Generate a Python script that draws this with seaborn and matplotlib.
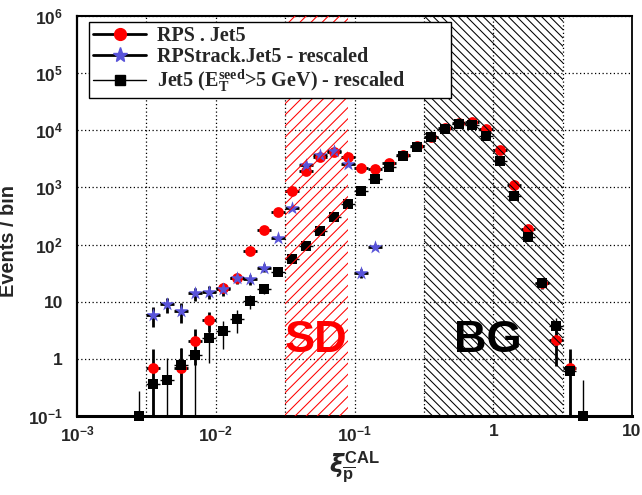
import numpy as np
import pandas as pd
import matplotlib
matplotlib.use("Agg")
import matplotlib.pyplot as plt
import seaborn as sns
from matplotlib.lines import Line2D
from matplotlib.ticker import FixedLocator, FixedFormatter, LogLocator, NullFormatter

# ---------------- data ----------------
XI = [0.002818, 0.003548, 0.004467, 0.005623, 0.007079, 0.008913, 0.01122, 0.01413,
      0.01778, 0.02239, 0.02818, 0.03548, 0.04467, 0.05623, 0.07079, 0.08913,
      0.1122, 0.1413, 0.1778, 0.2239, 0.2818, 0.3548, 0.4467, 0.5623, 0.7079,
      0.8913, 1.122, 1.413, 1.778, 2.239, 2.818, 3.548, 4.467]

nan = np.nan
RPS = [nan, 0.68, nan, 0.68, 2.08, 4.8, 17.6, 25.7, 76, 180, 376, 877, 1963, 3366,
       4220, 3450, 2213, 2075, 2640, 3700, 5370, 7730, 10840, 13250, 13800, 10400,
       4520, 1104, 185, 21, 2.14, 0.68, nan]
RPS_ERR = [nan, 0.8, nan, 0.9, 1.3, 1.9, 3.5, 4.5, 8, 12, 18, 28, 40, 55, 60, 55, 45,
           45, 50, 60, 70, 85, 100, 110, 115, 100, 65, 32, 13, 4.5, 1.4, 0.8, nan]

TRK = [nan, 5.86, 9.0, 6.9, 14.0, 15.0, 16.7, 25.7, 24.7, 39.4, 129, 431, 2470, 3700,
       4400, 2570, 31.4, 91.8, nan, nan, nan, nan, nan, nan, nan, nan, nan, nan,
       nan, nan, nan, nan, nan]
TRK_ERR = [nan, 2.3, 2.7, 2.6, 3.5, 3.9, 4.0, 5.0, 5.0, 6.0, 11, 20, 50, 60, 65, 50,
           5.5, 9.5, nan, nan, nan, nan, nan, nan, nan, nan, nan, nan, nan, nan,
           nan, nan, nan]

JET = [0.1, 0.36, 0.43, 0.78, 1.17, 2.35, 3.07, 4.98, 10.3, 16.9, 33, 56, 95.5, 175,
       300, 513, 877, 1406, 2306, 3600, 5160, 7730, 10540, 12880, 12400, 7940, 2940,
       717, 137, 21, 3.76, 0.62, 0.1]
JET_ERR = [0.17, 0.5, 0.62, 0.8, 1.5, 1.5, 1.6, 2.1, 2.9, 3.5, 5, 6, 8, 10, 14, 18,
           23, 30, 38, 48, 57, 70, 80, 90, 90, 70, 43, 21, 9, 3.5, 1.37, 0.6, 0.33]

LABELS = ["RPS . Jet5",
          "RPStrack.Jet5 - rescaled",
          r"Jet5 ($\mathregular{E_T^{seed}}$>5 GeV) - rescaled"]

SD_RANGE = (0.0316, 0.090)
BG_RANGE = (0.316, 3.16)
SD_TEXT = "SD"
BG_TEXT = "BG"
SD_TEXT_POS = (0.0532, 1.3)
BG_TEXT_POS = (0.907, 1.3)

XTICKS = [1e-3, 1e-2, 1e-1, 1, 10]
XTICK_LABELS = [r"$\mathregular{10^{-3}}$", r"$\mathregular{10^{-2}}$",
                r"$\mathregular{10^{-1}}$", "1", "10"]
YTICKS = [1e-1, 1, 10, 1e2, 1e3, 1e4, 1e5, 1e6]
YTICK_LABELS = [r"$\mathregular{10^{-1}}$", "1", "10", r"$\mathregular{10^{2}}$",
                r"$\mathregular{10^{3}}$", r"$\mathregular{10^{4}}$",
                r"$\mathregular{10^{5}}$", r"$\mathregular{10^{6}}$"]
XGRID = [10 ** -2.5, 10 ** -2, 10 ** -1.5, 10 ** -1, 10 ** -0.5, 1, 10 ** 0.5]

XLABEL = r"$\xi^{\mathregular{CAL}}_{\overline{\mathregular{p}}}$"
YLABEL = "Events / bin"

# ---------------- style ----------------
sns.set_style("white")
plt.rcParams["font.family"] = ["Liberation Sans", "DejaVu Sans"]
plt.rcParams["font.weight"] = "bold"
plt.rcParams["hatch.linewidth"] = 0.75

SANS = "Liberation Sans"
SERIF = "Liberation Serif"
BLUE = "#5954d9"

fig = plt.figure(figsize=(6.42, 4.95), dpi=100)
ax = fig.add_axes([77 / 642, 1 - 416 / 495, 555 / 642, 400 / 495])
ax.set_xscale("log")
ax.set_yscale("log")
ax.set_xlim(1e-3, 10)
ax.set_ylim(1e-1, 1e6)

df = pd.DataFrame({"xi": XI, "rps": RPS, "rps_err": RPS_ERR, "trk": TRK,
                   "trk_err": TRK_ERR, "jet": JET, "jet_err": JET_ERR})
x = df["xi"].to_numpy()
half = 10 ** 0.05
xerr = np.vstack([x - x / half, x * half - x])

# grid
for gx in XGRID:
    ax.axvline(gx, color="black", lw=0.9, ls=(0, (1, 2)), zorder=1)
ax.yaxis.grid(True, which="major", color="black", lw=0.9, ls=(0, (1, 2)), zorder=1)
ax.set_axisbelow(True)

# error bars
ax.errorbar(x, df["rps"], yerr=df["rps_err"], xerr=xerr, fmt="none",
            ecolor="black", elinewidth=2.0, capsize=0, zorder=2)
ax.errorbar(x, df["trk"], yerr=df["trk_err"], xerr=xerr, fmt="none",
            ecolor="black", elinewidth=2.0, capsize=0, zorder=2)
ax.errorbar(x, df["jet"], yerr=df["jet_err"], xerr=xerr, fmt="none",
            ecolor="black", elinewidth=1.0, capsize=0, zorder=2)

# markers
sns.scatterplot(data=df, x="xi", y="rps", ax=ax, marker="o", s=60, color="red",
                linewidth=0, zorder=3, clip_on=False, legend=False)
sns.scatterplot(data=df, x="xi", y="jet", ax=ax, marker="s", s=48, color="black",
                linewidth=0, zorder=3.2, clip_on=False, legend=False)
sns.scatterplot(data=df, x="xi", y="trk", ax=ax, marker="*", s=110, color=BLUE,
                linewidth=0, zorder=3.1, clip_on=False, legend=False)

# hatched regions (drawn over the data, as in the reference)
ax.axvspan(*SD_RANGE, facecolor="none", edgecolor="red", hatch="///", lw=0, zorder=4)
ax.axvspan(*BG_RANGE, facecolor="none", edgecolor="black", hatch="\\\\\\\\", lw=0, zorder=4)

ax.text(*SD_TEXT_POS, SD_TEXT, color="red", fontsize=32.5, fontweight="bold",
        family=SANS, ha="center", va="baseline", zorder=5)
ax.text(*BG_TEXT_POS, BG_TEXT, color="black", fontsize=32.5, fontweight="bold",
        family=SANS, ha="center", va="baseline", zorder=5)

# axes / ticks
ax.xaxis.set_major_locator(FixedLocator(XTICKS))
ax.xaxis.set_major_formatter(FixedFormatter(XTICK_LABELS))
ax.yaxis.set_major_locator(FixedLocator(YTICKS))
ax.yaxis.set_major_formatter(FixedFormatter(YTICK_LABELS))
ax.xaxis.set_minor_locator(LogLocator(base=10, subs=np.arange(2, 10), numticks=20))
ax.yaxis.set_minor_locator(LogLocator(base=10, subs=np.arange(2, 10), numticks=20))
ax.xaxis.set_minor_formatter(NullFormatter())
ax.yaxis.set_minor_formatter(NullFormatter())
ax.tick_params(which="both", direction="in", top=False, right=False, color="black",
               width=1.0, labelsize=12.5)
ax.tick_params(which="major", length=11)
ax.tick_params(which="minor", length=5.5)
ax.tick_params(axis="x", which="major", pad=6)
ax.tick_params(axis="y", which="major", pad=10)
for lab in ax.get_xticklabels() + ax.get_yticklabels():
    lab.set_fontweight("bold")
    lab.set_family(SANS)

for side in ["left", "bottom", "right", "top"]:
    ax.spines[side].set_visible(True)
    ax.spines[side].set_color("black")
ax.spines["left"].set_linewidth(1.6)
ax.spines["bottom"].set_linewidth(2.2)
ax.spines["right"].set_linewidth(1.3)
ax.spines["top"].set_linewidth(1.5)
ax.spines["top"].set_linestyle((0, (1, 1)))

ax.set_xlabel(XLABEL, fontsize=17, fontweight="bold", family=SANS, labelpad=4)
ax.set_ylabel(YLABEL, fontsize=14.4, fontweight="bold", family=SANS)
ax.yaxis.set_label_coords(-0.106, 0.4375)

# legend
handles = [
    Line2D([], [], color="black", lw=2.0, marker="o", markersize=8.5,
           markerfacecolor="red", markeredgecolor="red"),
    Line2D([], [], color="black", lw=2.0, marker="*", markersize=11,
           markerfacecolor=BLUE, markeredgecolor=BLUE),
    Line2D([], [], color="black", lw=1.0, marker="s", markersize=7,
           markerfacecolor="black", markeredgecolor="black"),
]
leg = ax.legend(handles, LABELS, loc="upper left", mode="expand",
                bbox_to_anchor=(0.0216, 0.8025, 0.652, 0.1825), borderaxespad=0,
                prop={"family": SERIF, "weight": "bold", "size": 14.5},
                handlelength=2.6, handletextpad=0.55, labelspacing=0.02,
                borderpad=0.22, frameon=True, fancybox=False, shadow=False,
                framealpha=1.0, edgecolor="black")
leg.get_frame().set_linewidth(1.0)
leg.set_zorder(10)

fig.savefig("out.png", dpi=100)
